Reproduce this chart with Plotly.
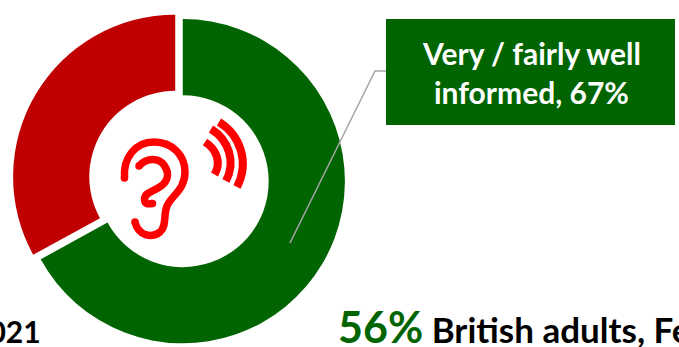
import plotly.graph_objects as go

W, H = 679, 347

# Share of adults by how well informed they feel
categories = ["Very / fairly well informed", "Not very / not at all informed"]
shares = [67, 33]
slice_colors = ["#006400", "#C00000"]
slice_pull = [0.027, 0.027]
headline_share = 56
GREEN = "#006400"
ICON_RED = "#FF0000"
FONT = "Lato, Carlito, 'Open Sans', sans-serif"

# Square pie area, centred on (179, 179) in page pixels
PIE_LEFT, PIE_RIGHT, PIE_TOP, PIE_BOTTOM = 12.5, 345.5, 12.5, 345.5

fig = go.Figure(go.Pie(
    labels=categories,
    values=shares,
    hole=0.53,
    pull=slice_pull,
    sort=False,
    direction="clockwise",
    rotation=0,
    textinfo="none",
    hoverinfo="label+percent",
    showlegend=False,
    marker=dict(colors=slice_colors, line=dict(width=0)),
    domain=dict(x=[PIE_LEFT / W, PIE_RIGHT / W], y=[(H - PIE_BOTTOM) / H, (H - PIE_TOP) / H]),
))


def stroke(path, width, color=ICON_RED):
    return dict(type="path", path=path, xref="x", yref="y", layer="above",
                line=dict(color=color, width=width))


def round_cap(x, y, width):
    r = width / 2
    return dict(type="circle", xref="x", yref="y", layer="above",
                x0=x - r, x1=x + r, y0=y - r, y1=y + r,
                fillcolor=ICON_RED, line=dict(width=0))


EAR_WIDTH = 7.5
WAVE_WIDTH = 8

shapes = [
    # Callout box and its leader line
    dict(type="rect", xref="x", yref="y", x0=386, x1=675, y0=19, y1=125,
         fillcolor=GREEN, line=dict(width=0), layer="above"),
    stroke("M 290 243 L 375 71 L 386 71", 1.5, "#A6A6A6"),
    # Ear outline
    stroke("M 124.5 178 C 123 158 135 142 154 142 C 173 142 185 156 185 172 "
           "C 185 190 171 196 167 206 C 163 216 167 226 160 232 "
           "C 151 239 138 235 135 222", EAR_WIDTH),
    round_cap(124.5, 178, EAR_WIDTH),
    round_cap(135, 222, EAR_WIDTH),
    # Inner fold of the ear
    stroke("M 139 166 C 146 158 158 157 164 165 C 171 175 167 183 158 188 "
           "C 151 192 145 193 144.5 199 C 144.5 205 149 204 152.5 203.5", EAR_WIDTH),
    round_cap(139, 166, EAR_WIDTH),
    round_cap(152.5, 203.5, EAR_WIDTH),
    # Sound waves
    stroke("M 205 142 C 216 149 222 162 214.5 174.5", WAVE_WIDTH),
    stroke("M 211 129 C 229 140 236 162 226 181", WAVE_WIDTH),
    stroke("M 219 122 C 240 135 250 162 237 187", WAVE_WIDTH),
]

annotations = [
    dict(x=531, y=53, xref="x", yref="y", showarrow=False,
         text="<b>Very / fairly well</b>",
         font=dict(family=FONT, size=30, color="white"), xanchor="center", yanchor="middle"),
    dict(x=531, y=92, xref="x", yref="y", showarrow=False,
         text=f"<b>informed, {shares[0]}%</b>",
         font=dict(family=FONT, size=30, color="white"), xanchor="center", yanchor="middle"),
    dict(x=43, y=331, xref="x", yref="y", showarrow=False, xanchor="right", yanchor="middle",
         text="<b>2021</b>", font=dict(family=FONT, size=30, color="black")),
    dict(x=336, y=326, xref="x", yref="y", showarrow=False, xanchor="left", yanchor="middle",
         text=f"<b><span style='font-size:43px;color:{GREEN}'>{headline_share}%</span> British adults, Feb</b>",
         font=dict(family=FONT, size=35, color="black")),
]

fig.update_layout(
    width=W, height=H,
    margin=dict(l=0, r=0, t=0, b=0),
    paper_bgcolor="white",
    plot_bgcolor="rgba(0,0,0,0)",
    xaxis=dict(range=[0, W], visible=False, fixedrange=True),
    yaxis=dict(range=[H, 0], visible=False, fixedrange=True),
    shapes=shapes,
    annotations=annotations,
)

fig.write_html("out.html", config={"displayModeBar": False})
